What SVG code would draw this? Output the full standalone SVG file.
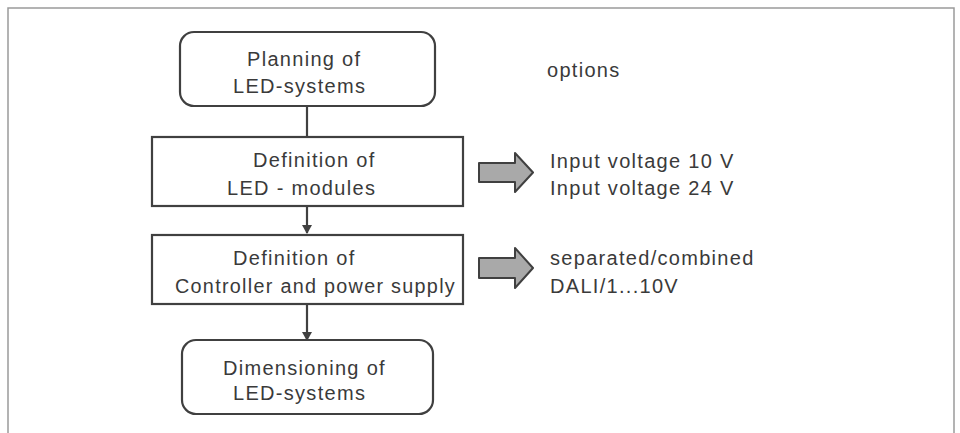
<svg xmlns="http://www.w3.org/2000/svg" width="960" height="433" viewBox="0 0 960 433">
<style>
.frame{fill:none;stroke:#9a9a9a;stroke-width:1.5}
.box{fill:#fff;stroke:#404040;stroke-width:2.2}
.t{font-family:"Liberation Sans",Arial,sans-serif;font-size:20px;fill:#3a3a3a;letter-spacing:1.3px}
.conn{stroke:#404040;stroke-width:2.2;fill:none}
.big{fill:#a9a9a9;stroke:#404040;stroke-width:2;stroke-linejoin:round}
</style>
<defs>
<marker id="ah" markerWidth="10" markerHeight="10" refX="8" refY="5" orient="auto" markerUnits="userSpaceOnUse">
<path d="M0,0 L9,5 L0,10 z" fill="#404040"/>
</marker>
</defs>
<rect width="960" height="433" fill="#fff"/>
<path class="frame" d="M8,433 V8 H954 V433"/>
<g id="connectors">
<line class="conn" x1="307" y1="106" x2="307" y2="136"/>
<line class="conn" x1="307" y1="207" x2="307" y2="233" marker-end="url(#ah)"/>
<line class="conn" x1="307" y1="305" x2="307" y2="340" marker-end="url(#ah)"/>
</g>
<g id="planning">
<rect class="box" x="180" y="32" width="255" height="74" rx="14"/>
<text class="t" x="247" y="66">Planning of</text>
<text class="t" x="233" y="93">LED-systems</text>
</g>
<g id="modules">
<rect class="box" x="152" y="137" width="311" height="69"/>
<text class="t" x="253" y="167">Definition of</text>
<text class="t" x="227" y="195">LED - modules</text>
</g>
<g id="controller">
<rect class="box" x="152" y="235" width="311" height="69"/>
<text class="t" x="233" y="265">Definition of</text>
<text class="t" x="175" y="293" textLength="281" lengthAdjust="spacingAndGlyphs">Controller and power supply</text>
</g>
<g id="dimensioning">
<rect class="box" x="182" y="340" width="251" height="74" rx="14"/>
<text class="t" x="223" y="375">Dimensioning of</text>
<text class="t" x="233" y="400">LED-systems</text>
</g>
<g id="options">
<text class="t" x="547" y="77">options</text>
</g>
<g id="voltage">
<path class="big" d="M479,163 H515 V153 L533,172.5 L515,192 V182 H479 z"/>
<text class="t" x="550" y="168">Input voltage 10 V</text>
<text class="t" x="550" y="195">Input voltage 24 V</text>
</g>
<g id="control">
<path class="big" d="M479,258 H515 V248 L533,268 L515,288 V278 H479 z"/>
<text class="t" x="550" y="265">separated/combined</text>
<text class="t" x="550" y="293">DALI/1...10V</text>
</g>
</svg>
